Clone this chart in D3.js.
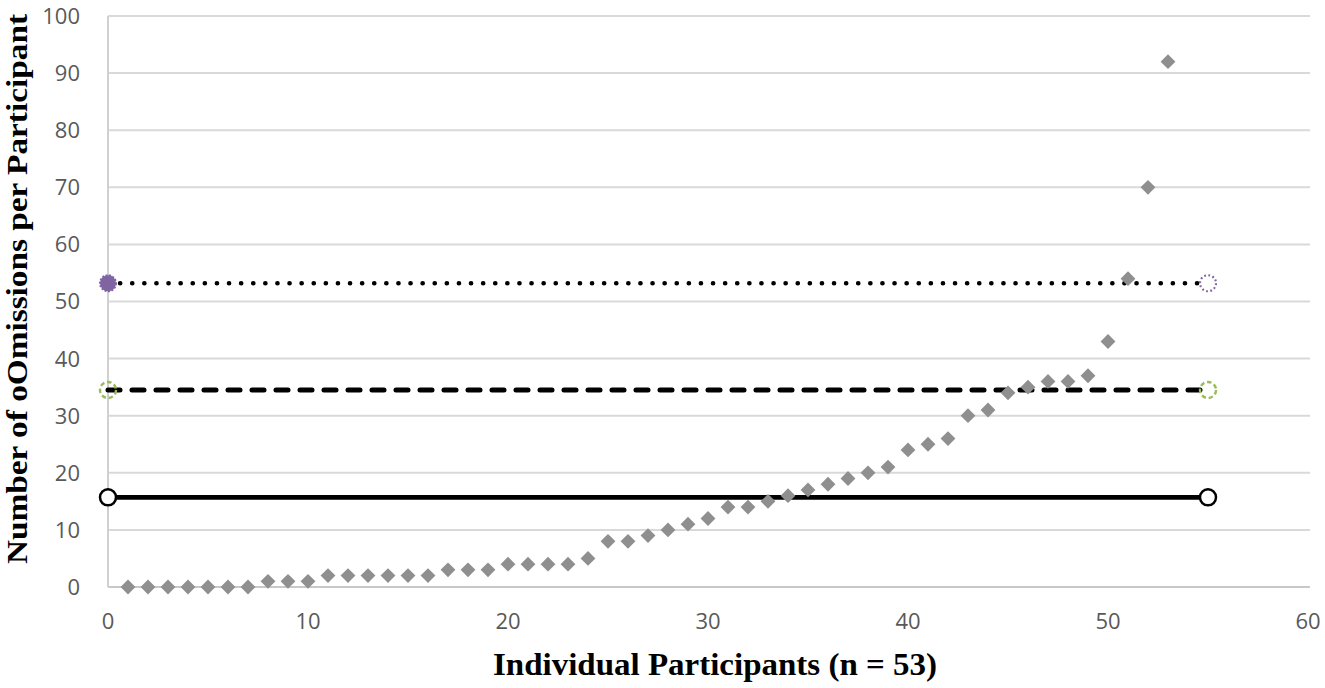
<!DOCTYPE html>
<html>
<head>
<meta charset="utf-8">
<script src="https://cdn.jsdelivr.net/npm/d3@7"></script>
<style>
  body { margin: 0; background: #fff; }
  svg { display: block; }
</style>
</head>
<body>
<svg id="chart"></svg>
<script>
// Participant index and number of omissions (sorted ascending)
const participants = d3.range(1, 54);
const omissions = [0, 0, 0, 0, 0, 0, 0, 1, 1, 1,
                   2, 2, 2, 2, 2, 2, 3, 3, 3, 4,
                   4, 4, 4, 5, 8, 8, 9, 10, 11, 12,
                   14, 14, 15, 16, 17, 18, 19, 20, 21, 24,
                   25, 26, 30, 31, 34, 35, 36, 36, 37, 43,
                   54, 70, 92];

// Reference lines (value, start x, end x)
const refNames = ["upper", "middle", "lower"];
const refValues = [53.2, 34.5, 15.7];
const refStart = [0, 0, 0];
const refEnd = [55, 55, 55];

const xTicks = [0, 10, 20, 30, 40, 50, 60];
const yTicks = [0, 10, 20, 30, 40, 50, 60, 70, 80, 90, 100];

const W = 1325, H = 688;
const margin = { top: 16, right: 15, bottom: 101, left: 108 };
const width = W - margin.left - margin.right,
      height = H - margin.top - margin.bottom;

const svg = d3.select("#chart").attr("width", W).attr("height", H);
const g = svg.append("g").attr("transform", `translate(${margin.left},${margin.top})`);

const x = d3.scaleLinear().domain([0, 60]).range([0, 1200]);
const y = d3.scaleLinear().domain([0, 100]).range([height, 0]);

// gridlines
g.append("g")
  .selectAll("line")
  .data(yTicks)
  .join("line")
  .attr("x1", 0).attr("x2", x(60) + 2)
  .attr("y1", d => y(d)).attr("y2", d => y(d))
  .attr("stroke", d => d === 0 ? "#c8c8c8" : "#d9d9d9")
  .attr("stroke-width", 2);

// y axis line
g.append("line")
  .attr("x1", 0).attr("x2", 0)
  .attr("y1", y(100)).attr("y2", y(0))
  .attr("stroke", "#d0d0d0").attr("stroke-width", 2);

// tick labels
const tickFont = "'Open Sans', 'Noto Sans', sans-serif";
g.append("g")
  .selectAll("text")
  .data(yTicks)
  .join("text")
  .attr("x", -28).attr("y", d => y(d))
  .attr("dy", "0.36em")
  .attr("text-anchor", "end")
  .attr("font-family", tickFont).attr("font-size", 22)
  .attr("fill", "#595959")
  .text(d => d);

g.append("g")
  .selectAll("text")
  .data(xTicks)
  .join("text")
  .attr("x", d => x(d)).attr("y", height + 34)
  .attr("dy", "0.36em")
  .attr("text-anchor", "middle")
  .attr("font-family", tickFont).attr("font-size", 22)
  .attr("fill", "#595959")
  .text(d => d);

// axis titles
const titleFont = "'Liberation Serif', 'Times New Roman', serif";
svg.append("text")
  .attr("x", 715).attr("y", 675)
  .attr("text-anchor", "middle")
  .attr("font-family", titleFont)
  .attr("font-weight", "bold").attr("font-size", 31)
  .attr("textLength", 444).attr("lengthAdjust", "spacingAndGlyphs")
  .attr("fill", "#000")
  .text("Individual Participants (n = 53)");

svg.append("text")
  .attr("transform", "translate(27,289) rotate(-90)")
  .attr("text-anchor", "middle")
  .attr("font-family", titleFont)
  .attr("font-weight", "bold").attr("font-size", 29)
  .attr("textLength", 550).attr("lengthAdjust", "spacingAndGlyphs")
  .attr("fill", "#000")
  .text("Number of oOmissions per Participant");

// reference lines
const lineStyles = [
  { dash: "0.1 12", width: 4.6, cap: "round" },
  { dash: "12 12", width: 5, cap: "round" },
  { dash: null, width: 4.8, cap: "butt" }
];
refValues.forEach((v, i) => {
  const s = lineStyles[i];
  g.append("line")
    .attr("class", "ref-" + refNames[i])
    .attr("x1", x(refStart[i])).attr("x2", x(refEnd[i]))
    .attr("y1", y(v)).attr("y2", y(v))
    .attr("stroke", "#000")
    .attr("stroke-width", s.width)
    .attr("stroke-linecap", s.cap)
    .attr("stroke-dasharray", s.dash);
});

// data points (diamonds)
const diamond = d3.symbol().type(d3.symbolDiamond2).size(140);
g.append("g")
  .selectAll("path")
  .data(participants)
  .join("path")
  .attr("transform", (d, i) => `translate(${x(d)},${y(omissions[i])})`)
  .attr("d", diamond)
  .attr("fill", "#8f8f8f");

// end markers of reference lines
const r = 8;
// upper: filled purple at start, hollow dotted purple at end
g.append("circle")
  .attr("cx", x(refStart[0])).attr("cy", y(refValues[0])).attr("r", r)
  .attr("fill", "#8064a2").attr("stroke", "#8064a2")
  .attr("stroke-width", 2).attr("stroke-dasharray", "2 1.5");
g.append("circle")
  .attr("cx", x(refEnd[0])).attr("cy", y(refValues[0])).attr("r", r)
  .attr("fill", "none").attr("stroke", "#8064a2")
  .attr("stroke-width", 2.2).attr("stroke-dasharray", "1.8 2.4");
// middle: hollow green dashed circles
[refStart[1], refEnd[1]].forEach(px => {
  g.append("circle")
    .attr("cx", x(px)).attr("cy", y(refValues[1])).attr("r", r)
    .attr("fill", "none").attr("stroke", "#9bbb59")
    .attr("stroke-width", 2.4).attr("stroke-dasharray", "4.5 2.8");
});
// lower: black circles with white fill
[refStart[2], refEnd[2]].forEach(px => {
  g.append("circle")
    .attr("cx", x(px)).attr("cy", y(refValues[2])).attr("r", r)
    .attr("fill", "#fff").attr("stroke", "#000")
    .attr("stroke-width", 2.5);
});
</script>
</body>
</html>
